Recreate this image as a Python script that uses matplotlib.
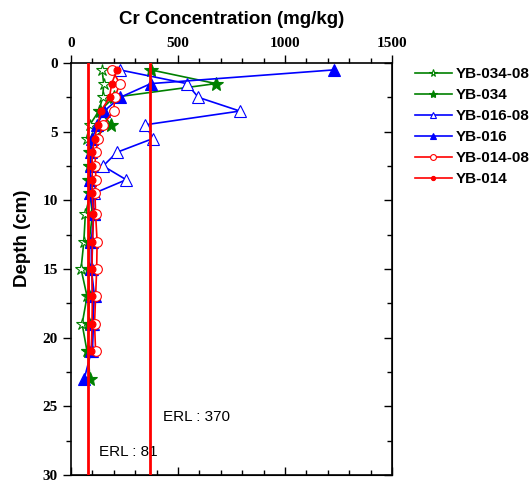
import matplotlib
matplotlib.use("Agg")
import matplotlib.pyplot as plt
from matplotlib.ticker import MultipleLocator

depth_08 = [0.5, 1.5, 2.5, 3.5, 4.5, 5.5, 6.5, 7.5, 8.5, 9.5, 11, 13, 15, 17, 19, 21]
depth_new = [0.5, 1.5, 2.5, 3.5, 4.5, 5.5, 6.5, 7.5, 8.5, 9.5, 11, 13, 15, 17, 19, 21, 23]

yb034_08 = [145, 153, 148, 130, 88, 75, 91, 83, 88, 91, 67, 60, 47, 75, 52, 75]
yb034 = [373, 677, 200, 134, 188, 99, 90, 88, 85, 88, 100, 85, 82, 85, 82, 80, 88]
yb016_08 = [227, 541, 595, 789, 347, 383, 215, 150, 258, 106, 106, 100, 98, 100, 105, 100]
yb016 = [1230, 373, 230, 155, 122, 100, 95, 92, 90, 88, 106, 95, 95, 110, 100, 95, 62]
yb014_08 = [192, 228, 205, 199, 150, 128, 115, 112, 118, 112, 115, 122, 120, 115, 110, 115]
yb014 = [215, 190, 180, 140, 125, 110, 100, 98, 100, 98, 105, 100, 98, 100, 98, 95]
depth_014 = depth_08

erl_values = [81, 370]
erl_labels = ["ERL : 81", "ERL : 370"]

series = [
    ("YB-034-08", depth_08, yb034_08, "#008000", "*", "white", 9),
    ("YB-034", depth_new, yb034, "#008000", "*", "#008000", 10),
    ("YB-016-08", depth_08, yb016_08, "#0000ff", "^", "white", 8),
    ("YB-016", depth_new, yb016, "#0000ff", "^", "#0000ff", 8),
    ("YB-014-08", depth_08, yb014_08, "#ff0000", "o", "white", 7),
    ("YB-014", depth_014, yb014, "#ff0000", "o", "#ff0000", 5),
]

fig = plt.figure(figsize=(5.31, 4.87), dpi=100)
ax = fig.add_axes([71/531, 1-475/487, (392-71)/531, (475-63)/487])

for name, d, v, c, m, fc, ms in series:
    ax.plot(v, d, color=c, lw=1.2, marker=m, markersize=ms, markerfacecolor=fc,
            markeredgecolor=c, markeredgewidth=0.8, label=name, zorder=3)

for val in erl_values:
    ax.axvline(val, color="#ff0000", lw=2, zorder=4)

ax.text(130, 28.3, erl_labels[0], fontsize=11, family="Liberation Sans", va="center", ha="left")
ax.text(432, 25.8, erl_labels[1], fontsize=11, family="Liberation Sans", va="center", ha="left")

ax.set_xlim(0, 1500)
ax.set_ylim(30, 0)
ax.xaxis.set_major_locator(MultipleLocator(500))
ax.xaxis.set_minor_locator(MultipleLocator(100))
ax.yaxis.set_major_locator(MultipleLocator(5))
ax.yaxis.set_minor_locator(MultipleLocator(2.5))
ax.xaxis.tick_top()
ax.xaxis.set_label_position("top")
ax.tick_params(which="both", direction="out", width=1, top=True, bottom=False, left=True, right=False)
ax.tick_params(which="major", length=6)
ax.tick_params(which="minor", length=3.5)
for lab in ax.get_xticklabels() + ax.get_yticklabels():
    lab.set_family("Liberation Serif")
    lab.set_fontweight("bold")
    lab.set_fontsize(11)
for s in ax.spines.values():
    s.set_linewidth(1.2)

sx = ax.secondary_xaxis("bottom")
sx.xaxis.set_major_locator(MultipleLocator(500))
sx.xaxis.set_minor_locator(MultipleLocator(100))
sx.tick_params(which="both", direction="in", labelbottom=False, width=1)
sx.tick_params(which="major", length=6)
sx.tick_params(which="minor", length=3.5)
sy = ax.secondary_yaxis("right")
sy.yaxis.set_major_locator(MultipleLocator(5))
sy.yaxis.set_minor_locator(MultipleLocator(2.5))
sy.tick_params(which="both", direction="in", labelright=False, width=1)
sy.tick_params(which="major", length=6)
sy.tick_params(which="minor", length=3.5)

ax.set_xlabel("Cr Concentration (mg/kg)", fontsize=13.5, fontweight="bold",
              family="Liberation Sans", labelpad=9)
ax.set_ylabel("Depth (cm)", fontsize=13.5, fontweight="bold", family="Liberation Sans")
ax.yaxis.set_label_coords(-0.125, 0.575)

leg = fig.legend(loc="upper left", bbox_to_anchor=(409/531, 1-61/487), frameon=False,
                 prop={"family": "Liberation Sans", "weight": "bold", "size": 11},
                 handlelength=2.4, labelspacing=0.46, handletextpad=0.25, borderaxespad=0,
                 markerscale=0.6)

fig.savefig("out.png", dpi=100)
